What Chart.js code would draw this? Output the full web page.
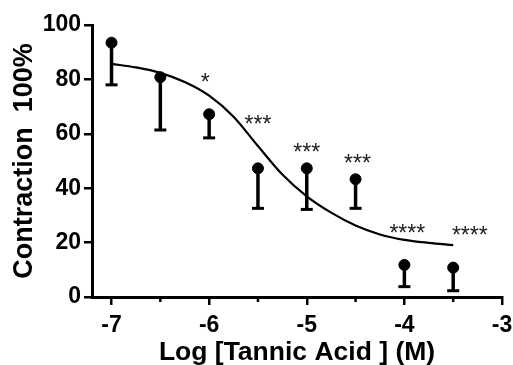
<!DOCTYPE html>
<html>
<head>
<meta charset="utf-8">
<script src="https://cdn.jsdelivr.net/npm/chart.js@4/dist/chart.umd.min.js"></script>
<style>
html,body{margin:0;padding:0;background:#fff;}
#wrap{width:513px;height:365px;}
</style>
</head>
<body>
<div id="wrap"><canvas id="c" width="513" height="365"></canvas></div>
<script>
// ---- data ----
const doseX = [-7, -6.5, -6, -5.5, -5, -4.5, -4, -3.5];
const meanY = [93.5, 80.8, 67.2, 47.3, 47.3, 43.3, 11.8, 10.8];
const lowerY = [78, 61.4, 58.5, 32.6, 32.2, 32.6, 3.8, 2.3];

const curveX = [-7, -6.75, -6.5, -6.25, -6, -5.75, -5.5, -5.25, -5, -4.75, -4.5, -4.25, -4, -3.75, -3.5];
const curveY = [85.7, 84.4, 82.4, 79, 74, 66.3, 55.5, 45, 37, 31, 26.3, 23, 21, 19.9, 19.1];

const sigText = ["*", "***", "***", "***", "****", "****"];
const sigX = [-6.04, -5.5, -5.0, -4.48, -3.97, -3.33];
const sigY = [79.9, 64.4, 54, 50.2, 24.4, 23.7];

const xTicks = [-7, -6, -5, -4, -3];
const xMinorTicks = [-6.5, -5.5, -4.5, -3.5];
const yTicks = [0, 20, 40, 60, 80, 100];

const FONT = "'Liberation Sans', Arial, sans-serif";

const extras = {
  id: 'extras',
  beforeDatasetsDraw(chart) {
    const ctx = chart.ctx, xs = chart.scales.x, ys = chart.scales.y;
    ctx.save();
    ctx.strokeStyle = '#000';
    ctx.lineCap = 'butt';
    for (let i = 0; i < doseX.length; i++) {
      const px = xs.getPixelForValue(doseX[i]);
      const pm = ys.getPixelForValue(meanY[i]);
      const pl = ys.getPixelForValue(lowerY[i]);
      ctx.lineWidth = 3.5;
      ctx.beginPath(); ctx.moveTo(px, pm); ctx.lineTo(px, pl); ctx.stroke();
      ctx.lineWidth = 3;
      ctx.beginPath(); ctx.moveTo(px - 6, pl); ctx.lineTo(px + 6, pl); ctx.stroke();
    }
    ctx.restore();
  },
  afterDraw(chart) {
    const ctx = chart.ctx, xs = chart.scales.x, ys = chart.scales.y;
    ctx.save();
    // minor ticks
    ctx.strokeStyle = '#000';
    ctx.lineWidth = 2.5;
    const b = chart.chartArea.bottom;
    xMinorTicks.forEach(v => {
      const px = xs.getPixelForValue(v);
      ctx.beginPath(); ctx.moveTo(px, b); ctx.lineTo(px, b + 5); ctx.stroke();
    });
    // significance stars
    ctx.fillStyle = '#222';
    ctx.font = "23px " + FONT;
    ctx.textAlign = 'center';
    ctx.textBaseline = 'middle';
    sigText.forEach((t, i) => {
      const px = xs.getPixelForValue(sigX[i]);
      const py = ys.getPixelForValue(sigY[i]);
      ctx.fillText(t, px, py + 4);
    });
    ctx.restore();
  }
};

new Chart(document.getElementById('c'), {
  type: 'scatter',
  data: {
    datasets: [
      {
        type: 'line',
        data: curveX.map((x, i) => ({x, y: curveY[i]})),
        borderColor: '#000',
        borderWidth: 2.2,
        pointRadius: 0,
        fill: false,
        cubicInterpolationMode: 'monotone'
      },
      {
        data: doseX.map((x, i) => ({x, y: meanY[i]})),
        backgroundColor: '#000',
        borderColor: '#000',
        pointRadius: 5.5,
        pointHoverRadius: 5.5
      }
    ]
  },
  options: {
    responsive: false,
    animation: false,
    events: [],
    layout: { padding: { top: 25, right: 0, left: 0, bottom: 0 } },
    plugins: { legend: { display: false }, tooltip: { enabled: false } },
    scales: {
      x: {
        type: 'linear',
        min: -7.2,
        max: -3,
        afterBuildTicks(s) { s.ticks = xTicks.map(v => ({value: v})); },
        afterFit(s) { s.height = 68; s.paddingRight = 11; s.paddingLeft = 0; },
        border: { display: true, color: '#000', width: 3 },
        grid: { display: true, drawOnChartArea: false, drawTicks: true, tickLength: 8, color: '#000', lineWidth: 2.5 },
        ticks: { color: '#000', padding: 7, font: { family: FONT, size: 23, weight: 'bold' }, maxRotation: 0 },
        title: { display: true, text: 'Log [Tannic Acid ] (M)', color: '#000', padding: { top: 0, bottom: 0 }, font: { family: FONT, size: 26.5, weight: 'bold', lineHeight: 0.9 } }
      },
      y: {
        min: 0,
        max: 100,
        afterBuildTicks(s) { s.ticks = yTicks.map(v => ({value: v})); },
        afterFit(s) { s.width = 92; },
        border: { display: true, color: '#000', width: 3 },
        grid: { display: true, drawOnChartArea: false, drawTicks: true, tickLength: 8, color: '#000', lineWidth: 2.5 },
        ticks: { color: '#000', padding: 3, font: { family: FONT, size: 23, weight: 'bold' } },
        title: { display: true, text: 'Contraction  100%', color: '#000', padding: { top: 8, bottom: 0 }, font: { family: FONT, size: 27, weight: 'bold' } }
      }
    }
  },
  plugins: [extras]
});
</script>
</body>
</html>
